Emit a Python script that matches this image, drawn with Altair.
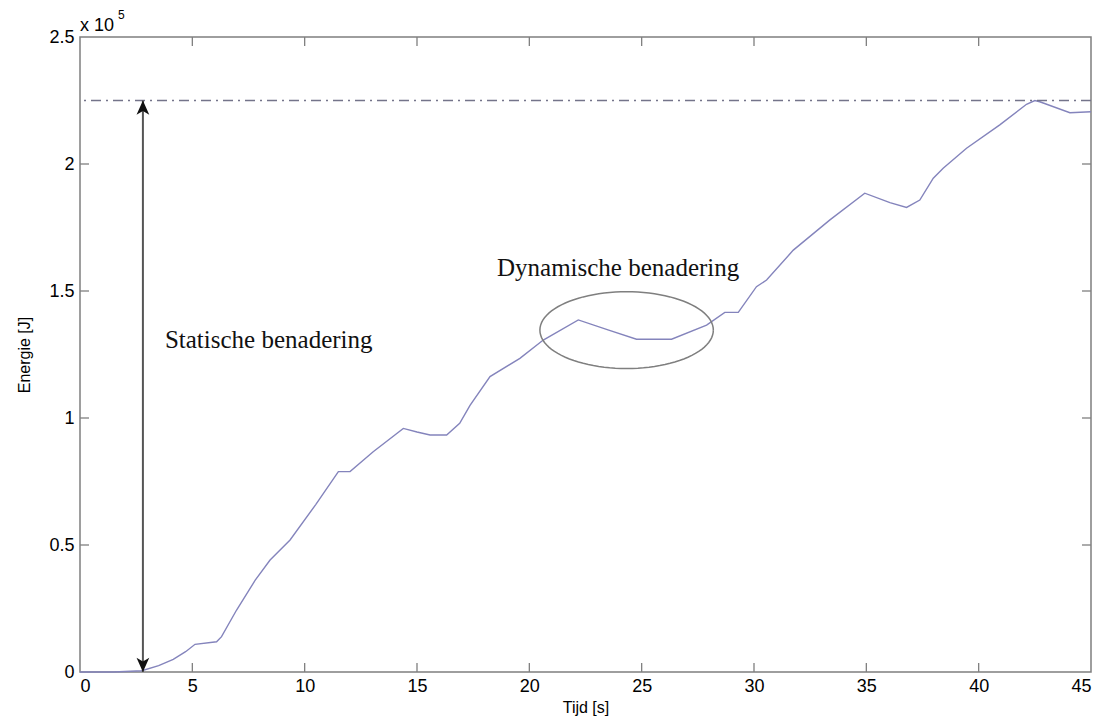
import altair as alt
import numpy as np
import pandas as pd

# Energy over time (energy in units of 1e5 J)
time_s = [0, 1.5, 2.75, 3.5, 4.15, 4.7, 5.12, 6.08, 6.3, 6.97, 7.8, 8.46, 9.35,
          10.5, 11.5, 12.02, 13.05, 14.39, 15.0, 15.58, 16.32, 16.9, 17.36,
          18.25, 19.58, 20.62, 22.18, 23.5, 24.77, 26.33, 27.89, 28.7, 29.3,
          30.11, 30.56, 31.75, 33.38, 34.93, 36.05, 36.79, 37.38, 37.98, 38.42,
          39.46, 40.94, 42.13, 42.5, 42.72, 44.06, 45]
energy_e5 = [0, 0, 0.005, 0.025, 0.05, 0.08, 0.109, 0.119, 0.139, 0.244, 0.362,
             0.441, 0.52, 0.66, 0.789, 0.789, 0.867, 0.959, 0.945, 0.933, 0.933,
             0.979, 1.05, 1.163, 1.235, 1.307, 1.386, 1.347, 1.31, 1.31, 1.366,
             1.416, 1.416, 1.517, 1.543, 1.661, 1.78, 1.885, 1.848, 1.829, 1.858,
             1.944, 1.983, 2.062, 2.154, 2.235, 2.25, 2.245, 2.202, 2.206]

x_ticks = [0, 5, 10, 15, 20, 25, 30, 35, 40, 45]
y_ticks = [0, 0.5, 1, 1.5, 2, 2.5]

max_energy = 2.25          # static approach level
arrow_time = 2.8           # position of the double arrow

# ellipse around the dynamic dip
ell_center = (24.33, 1.346)
ell_radius = (3.86, 0.151)

W, H = 1011, 635
AXIS_FONT = "Liberation Sans"
NOTE_FONT = "Liberation Serif"
LINE_GREY = "#7f7f7f"

xs = alt.Scale(domain=[0, 45], nice=False, zero=False)
ys = alt.Scale(domain=[0, 2.5], nice=False, zero=False)

curve_df = pd.DataFrame({"t": time_s, "E": energy_e5})
ang = np.linspace(0, 2 * np.pi, 97)
ell_df = pd.DataFrame({
    "t": ell_center[0] + ell_radius[0] * np.cos(ang),
    "E": ell_center[1] + ell_radius[1] * np.sin(ang),
    "k": np.arange(len(ang)),
})

x_axis = alt.Axis(values=x_ticks, grid=False, domain=False, ticks=False,
                  labelFont=AXIS_FONT, labelFontSize=18, labelColor="#000",
                  labelPadding=5, title="Tijd [s]", titleFont=AXIS_FONT,
                  titleFontSize=16, titleFontWeight="normal", titleColor="#000",
                  titlePadding=4)
y_axis = alt.Axis(values=y_ticks, grid=False, domain=False, ticks=False,
                  labelFont=AXIS_FONT, labelFontSize=18, labelColor="#000",
                  labelPadding=6, labelExpr="format(datum.value, '')",
                  title="Energie [J]", titleFont=AXIS_FONT, titleFontSize=16,
                  titleFontWeight="normal", titleColor="#000", titlePadding=16)

curve = alt.Chart(curve_df).mark_line(color="#8484bc", strokeWidth=1.4).encode(
    x=alt.X("t:Q", scale=xs, axis=x_axis),
    y=alt.Y("E:Q", scale=ys, axis=y_axis),
)

level = alt.Chart(pd.DataFrame({"E": [max_energy]})).mark_rule(
    color="#74748a", strokeWidth=1.3, strokeDash=[10, 5, 2, 5]
).encode(y=alt.Y("E:Q", scale=ys))

arrow_shaft = alt.Chart(pd.DataFrame({"t": [arrow_time], "E0": [0.0], "E1": [max_energy]})).mark_rule(
    color="#555555", strokeWidth=2
).encode(x=alt.X("t:Q", scale=xs), y=alt.Y("E0:Q", scale=ys), y2="E1:Q")

head_up = alt.Chart(pd.DataFrame({"t": [arrow_time], "E": [max_energy]})).mark_point(
    shape="M 0 0 L -0.45 1 L 0 0.75 L 0.45 1 Z", size=800, filled=True,
    color="#111111", opacity=1
).encode(x=alt.X("t:Q", scale=xs), y=alt.Y("E:Q", scale=ys))

head_down = alt.Chart(pd.DataFrame({"t": [arrow_time], "E": [0.0]})).mark_point(
    shape="M 0 0 L -0.45 -1 L 0 -0.75 L 0.45 -1 Z", size=800, filled=True,
    color="#111111", opacity=1
).encode(x=alt.X("t:Q", scale=xs), y=alt.Y("E:Q", scale=ys))

ellipse = alt.Chart(ell_df).mark_line(color=LINE_GREY, strokeWidth=1.5).encode(
    x=alt.X("t:Q", scale=xs), y=alt.Y("E:Q", scale=ys), order="k:Q"
)

notes_df = pd.DataFrame({
    "t": [3.78, 18.56],
    "E": [1.307, 1.59],
    "label": ["Statische benadering", "Dynamische benadering"],
})
notes = alt.Chart(notes_df).mark_text(
    font=NOTE_FONT, fontSize=25, align="left", baseline="middle", color="#111"
).encode(x=alt.X("t:Q", scale=xs), y=alt.Y("E:Q", scale=ys), text="label:N")

# inward tick marks on all four sides of the box
xt_df = pd.DataFrame({"v": x_ticks[1:-1]})
yt_df = pd.DataFrame({"v": y_ticks[1:-1]})
tick_style = dict(color=LINE_GREY, strokeWidth=1.3)
xt_bottom = alt.Chart(xt_df).mark_rule(**tick_style).encode(
    x=alt.X("v:Q", scale=xs), y=alt.value(H), y2=alt.value(H - 9))
xt_top = alt.Chart(xt_df).mark_rule(**tick_style).encode(
    x=alt.X("v:Q", scale=xs), y=alt.value(0), y2=alt.value(9))
yt_left = alt.Chart(yt_df).mark_rule(**tick_style).encode(
    y=alt.Y("v:Q", scale=ys), x=alt.value(0), x2=alt.value(9))
yt_right = alt.Chart(yt_df).mark_rule(**tick_style).encode(
    y=alt.Y("v:Q", scale=ys), x=alt.value(W), x2=alt.value(W - 9))

# "x 10^5" exponent marker above the y axis
exp_base = alt.Chart(pd.DataFrame({"s": ["x 10"]})).mark_text(
    font=AXIS_FONT, fontSize=18, align="left", baseline="middle", color="#000"
).encode(x=alt.value(0), y=alt.value(-11), text="s:N")
exp_pow = alt.Chart(pd.DataFrame({"s": ["5"]})).mark_text(
    font=AXIS_FONT, fontSize=12, align="left", baseline="middle", color="#000"
).encode(x=alt.value(38), y=alt.value(-22), text="s:N")

chart = alt.layer(
    curve, level, arrow_shaft, head_up, head_down, ellipse, notes,
    xt_bottom, xt_top, yt_left, yt_right, exp_base, exp_pow,
).properties(
    width=W, height=H,
    autosize=alt.AutoSizeParams(type="none"),
    padding={"left": 80, "top": 37, "right": 13, "bottom": 48},
    background="white",
).configure_view(
    stroke=LINE_GREY, strokeWidth=1.5
)

chart.save("out.html", embed_options={"renderer": "svg", "actions": False})
